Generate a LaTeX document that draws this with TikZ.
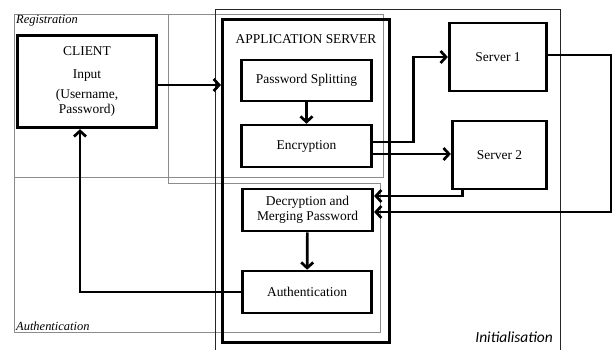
\documentclass[tikz,border=0pt]{standalone}
\usepackage{fontspec}
\setmainfont{Liberation Serif}
\newfontfamily\notefont{Carlito}
\usepackage{tikz}
\usetikzlibrary{arrows.meta}

\begin{document}
\begin{tikzpicture}[x=1bp, y=-1bp,
	box/.style={draw, line width=2.7bp, inner sep=2bp, align=center, font=\fontsize{13.5}{15}\selectfont},
	link/.style={line width=2.7bp, -{Straight Barb[length=5.5bp, width=12bp]}},
	zone/.style={draw=black!45, line width=0.8bp},
	frame/.style={draw=black!85, line width=1bp},
	zonetext/.style={font=\fontsize{12.5}{14}\selectfont\itshape, inner sep=1bp}]
				\useasboundingbox (0,0) rectangle (612,350);
				
				% phases
				\draw [zone] (14,14) rectangle (383,177);
				\draw [zone] (168,14) -- (168,183) -- (380,183) -- (380,332) -- (14,332) -- (14,177);
				\draw [frame] (215,350) -- (215,9) -- (560,9) -- (560,350);
				
				\node [zonetext, anchor=north west] (regtext) at (15,14) {Registration};
				\node [zonetext, anchor=south west] (authtext) at (15,332) {Authentication};
				\node [anchor=east, inner sep=1bp, font=\notefont\fontsize{15.5}{17}\selectfont\itshape] (inittext) at (554,337) {Initialisation};
				
				% blocks
				\node [box, minimum width=140, minimum height=93] (client) at (87,81.5) {CLIENT\\[8bp] Input\\[6bp] (Username,\\ Password)};
				\node [box, minimum width=168, minimum height=324] (appsrv) at (306,181) {};
				\node [font=\fontsize{13.5}{15}\selectfont] (apptitle) at (306,39) {APPLICATION SERVER};
				
				\node [box, minimum width=131, minimum height=41] (split) at (306.5,80.5) {Password Splitting};
				\node [box, minimum width=131, minimum height=42] (encr) at (306.5,146) {Encryption};
				\node [box, minimum width=131, minimum height=42] (decr) at (307.5,210) {Decryption and\\ Merging Password};
				\node [box, minimum width=130, minimum height=42] (auth) at (307,292) {Authentication};
				
				\node [box, minimum width=98, minimum height=68] (srv1) at (498,57) {Server 1};
				\node [box, minimum width=95, minimum height=68] (srv2) at (499.5,155) {Server 2};
				
				% connectors
				\draw [link] ([yshift=-3.5bp]client.east) -- ([yshift=-3.5bp]client.east -| appsrv.west);
				\draw [link] (split) -- (encr);
				\draw [link] ([yshift=4bp]encr.east) -| ([xshift=-34bp]srv1.west) -- (srv1.west);
				\draw [link] ([yshift=-8bp]encr.east) -- ([yshift=-8bp]encr.east -| srv2.west);
				\draw [link] ([xshift=-37bp]srv2.south) |- ([yshift=14bp]decr.east);
				\draw [link] ([yshift=2bp]srv1.east) -- ++(63,0) |- ([yshift=-2bp]decr.east);
				\draw [link] (decr) -- (auth);
				\draw [link] (auth.west) -| ([xshift=-7bp]client.south);
				\end{tikzpicture}
\end{document}
